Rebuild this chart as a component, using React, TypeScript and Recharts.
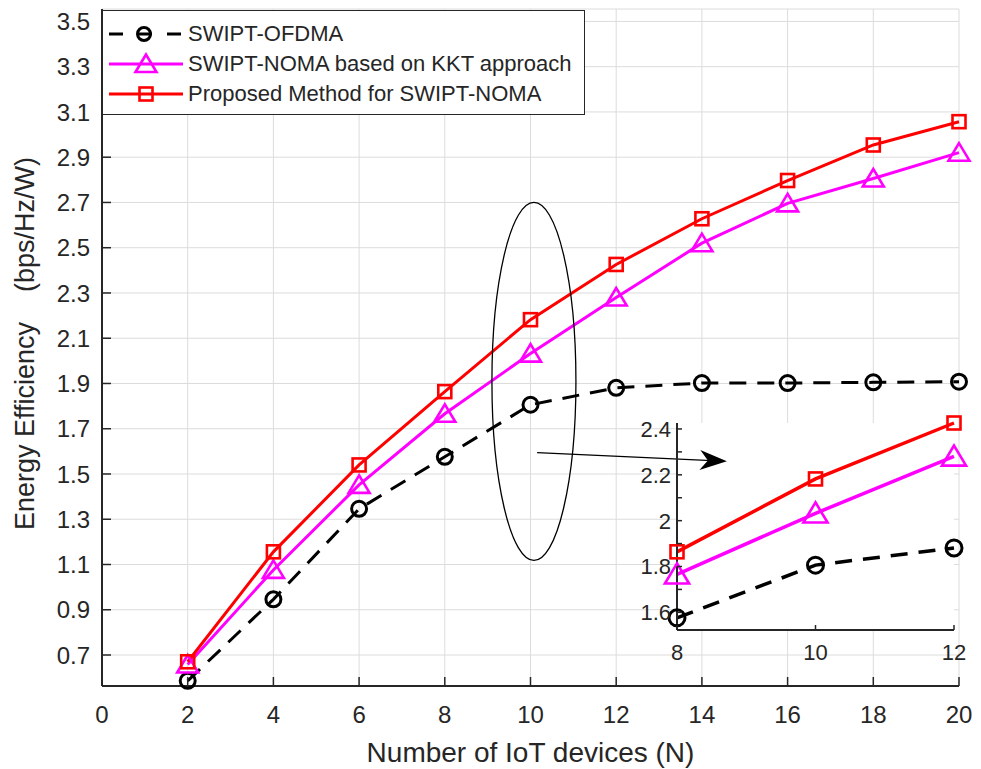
import React from 'react';
import {
  LineChart, Line, XAxis, YAxis, CartesianGrid, Legend, ReferenceDot, ReferenceLine,
} from 'recharts';

// number of IoT devices N
const devices = [2, 4, 6, 8, 10, 12, 14, 16, 18, 20];
// energy efficiency (bps/Hz/W)
const ofdma = [0.586, 0.946, 1.346, 1.576, 1.806, 1.881, 1.902, 1.902, 1.905, 1.908];
const kkt = [0.658, 1.076, 1.452, 1.766, 2.032, 2.28, 2.52, 2.696, 2.806, 2.92];
const proposed = [0.67, 1.156, 1.54, 1.864, 2.182, 2.426, 2.628, 2.797, 2.954, 3.057];

const xTicks = [0, 2, 4, 6, 8, 10, 12, 14, 16, 18, 20];
const yTicks = [0.7, 0.9, 1.1, 1.3, 1.5, 1.7, 1.9, 2.1, 2.3, 2.5, 2.7, 2.9, 3.1, 3.3, 3.5];

// zoomed inset
const zoomXTicks = [8, 10, 12];
const zoomYTicks = [1.6, 1.7, 1.8, 1.9, 2.0, 2.1, 2.2, 2.3, 2.4];

const seriesOrder = ['ofdma', 'kkt', 'proposed'];

const rows = devices.map((n, i) => ({ n, ofdma: ofdma[i], kkt: kkt[i], proposed: proposed[i] }));
const zoomRows = rows.filter((r) => r.n >= 8 && r.n <= 12);

const AXIS = '#262626';
const TXT = '#262626';
const GRID = '#dcdcdc';
const FONT = '"Liberation Sans", Arial, Helvetica, sans-serif';
const MAGENTA = '#ff00ff';
const RED = '#ff0000';

const circleDot = (r: number) => (p: any) => (
  <circle key={p.key} cx={p.cx} cy={p.cy} r={r} fill="none" stroke="#000" strokeWidth={3} strokeDasharray="none" />
);
const triangleDot = (s: number) => (p: any) => (
  <polygon
    key={p.key}
    points={`${p.cx},${p.cy - 9.5 * s} ${p.cx - 10.5 * s},${p.cy + 8 * s} ${p.cx + 10.5 * s},${p.cy + 8 * s}`}
    fill="none" stroke={MAGENTA} strokeWidth={2.6} />
);
const squareDot = (s: number) => (p: any) => (
  <rect key={p.key} x={p.cx - 6.5 * s} y={p.cy - 6.5 * s} width={13 * s} height={13 * s} fill="none" stroke={RED} strokeWidth={2.6} />
);

const bottomTick = (len: number, dy: number, size: number, labels: boolean) => (p: any) => (
  <g>
    <line x1={p.x} x2={p.x} y1={p.y} y2={p.y - len} stroke={AXIS} strokeWidth={1.5} />
    {labels && (
      <text x={p.x} y={p.y + dy} textAnchor="middle" fontSize={size} fill={TXT} fontFamily={FONT}>
        {p.payload.value}
      </text>
    )}
  </g>
);
const topTick = (len: number) => (p: any) => (
  <line x1={p.x} x2={p.x} y1={p.y} y2={p.y + len} stroke={AXIS} strokeWidth={1.5} />
);
const leftTick = (len: number, dx: number, size: number, fmt: ((v: number) => string) | null) => (p: any) => (
  <g>
    <line x1={p.x} x2={p.x + len} y1={p.y} y2={p.y} stroke={AXIS} strokeWidth={1.5} />
    {fmt && (
      <text x={p.x - dx} y={p.y} dy="0.36em" textAnchor="end" fontSize={size} fill={TXT} fontFamily={FONT}>
        {fmt(p.payload.value)}
      </text>
    )}
  </g>
);
const rightTick = (len: number) => (p: any) => (
  <line x1={p.x} x2={p.x - len} y1={p.y} y2={p.y} stroke={AXIS} strokeWidth={1.5} />
);

const zoomFmt = (v: number) => {
  const t = Math.round(v * 10);
  return t % 2 === 0 ? String(t / 10) : '';
};

const legendMarks: Record<string, { dash?: string; mark: string }> = {
  ofdma: { dash: '14 15', mark: 'circle' },
  kkt: { mark: 'triangle' },
  proposed: { mark: 'square' },
};

const LegendBox = (props: any) => {
  const items = [...(props.payload || [])].sort(
    (a: any, b: any) => seriesOrder.indexOf(a.dataKey) - seriesOrder.indexOf(b.dataKey),
  );
  return (
    <div style={{ paddingTop: 8 }}>
      {items.map((item: any) => {
        const m = legendMarks[item.dataKey];
        return (
          <div key={item.dataKey} style={{ display: 'flex', alignItems: 'center', height: 30 }}>
            <svg width={74} height={30} style={{ marginLeft: 6 }}>
              <line x1={0} x2={74} y1={15} y2={15} stroke={item.color} strokeWidth={3} strokeDasharray={m.dash} />
              {m.mark === 'circle' && <circle cx={35} cy={15} r={6.5} fill="none" stroke="#000" strokeWidth={3} />}
              {m.mark === 'triangle' && (
                <polygon points="37,5.5 26.5,23 47.5,23" fill="none" stroke={MAGENTA} strokeWidth={2.6} />
              )}
              {m.mark === 'square' && <rect x={30.5} y={8.5} width={13} height={13} fill="none" stroke={RED} strokeWidth={2.6} />}
            </svg>
            <span style={{ marginLeft: 5, fontSize: 22, fontFamily: FONT, color: TXT, whiteSpace: 'nowrap' }}>{item.value}</span>
          </div>
        );
      })}
    </div>
  );
};

const xLabel = (p: any) => (
  <text x={p.viewBox.x + p.viewBox.width / 2} y={p.viewBox.y + 76} textAnchor="middle" fontSize={28} fill={TXT} fontFamily={FONT}>
    Number of IoT devices (N)
  </text>
);
const yLabel = (p: any) => {
  const cx = 25;
  const cy = p.viewBox.y + p.viewBox.height / 2 - 4;
  return (
    <text x={cx} y={cy} transform={`rotate(-90 ${cx} ${cy})`} textAnchor="middle" dominantBaseline="central" fontSize={27} fill={TXT} fontFamily={FONT} style={{ whiteSpace: 'pre' }}>
      {'Energy Efficiency    (bps/Hz/W)'}
    </text>
  );
};

const Ellipse = (p: any) => <ellipse cx={p.cx} cy={p.cy} rx={42} ry={179} fill="none" stroke="#000" strokeWidth={1.3} />;

const Arrow = (p: any) => {
  const { x1, y1, x2, y2 } = p;
  const a = Math.atan2(y2 - y1, x2 - x1);
  const pt = (d: number, w: number) =>
    `${x2 - d * Math.cos(a) - w * Math.sin(a)},${y2 - d * Math.sin(a) + w * Math.cos(a)}`;
  return (
    <g>
      <line x1={x1} y1={y1} x2={x2 - 15 * Math.cos(a)} y2={y2 - 15 * Math.sin(a)} stroke="#000" strokeWidth={1.3} />
      <polygon points={`${x2},${y2} ${pt(27, -10)} ${pt(19, 0)} ${pt(27, 10)}`} fill="#000" />
    </g>
  );
};

export default function App() {
  return (
    <div style={{ position: 'absolute', left: 0, top: 0, width: 981, height: 769, background: '#fff' }}>
      <LineChart width={981} height={769} data={rows} margin={{ top: 9, right: 22, bottom: 0, left: 0 }}>
        <CartesianGrid stroke={GRID} strokeWidth={1} />
        <XAxis dataKey="n" type="number" domain={[0, 20]} ticks={xTicks} interval={0} height={83}
          tickSize={0} tickMargin={0} axisLine={{ stroke: AXIS, strokeWidth: 2 }}
          tick={bottomTick(9, 37, 24, true)} label={xLabel} />
        <XAxis xAxisId="top" orientation="top" type="number" domain={[0, 20]} ticks={xTicks} interval={0} height={0}
          tickSize={0} tickMargin={0} axisLine={{ stroke: AXIS, strokeWidth: 2 }} tick={topTick(9)} />
        <YAxis type="number" domain={[0.563, 3.555]} ticks={yTicks} interval={0} width={102}
          tickSize={0} tickMargin={0} axisLine={{ stroke: AXIS, strokeWidth: 2 }}
          tick={leftTick(9, 12, 24, (v) => v.toFixed(1))} label={yLabel} />
        <YAxis yAxisId="right" orientation="right" type="number" domain={[0.563, 3.555]} ticks={yTicks} interval={0} width={0}
          tickSize={0} tickMargin={0} axisLine={{ stroke: AXIS, strokeWidth: 2 }} tick={rightTick(9)} />
        <ReferenceDot x={10.08} y={1.909} r={1} ifOverflow="visible" shape={Ellipse} />
        <Line dataKey="ofdma" name="SWIPT-OFDMA" stroke="#000" strokeWidth={3} strokeDasharray="17 11"
          dot={circleDot(7.5)} isAnimationActive={false} />
        <Line dataKey="kkt" name="SWIPT-NOMA based on KKT approach" stroke={MAGENTA} strokeWidth={3}
          dot={triangleDot(1)} isAnimationActive={false} />
        <Line dataKey="proposed" name="Proposed Method for SWIPT-NOMA" stroke={RED} strokeWidth={3}
          dot={squareDot(1)} isAnimationActive={false} />
        <Legend layout="vertical" align="center" verticalAlign="middle" content={LegendBox}
          wrapperStyle={{ left: 102, top: 10, width: 483, height: 105, border: `1px solid ${AXIS}`, background: '#fff', boxSizing: 'border-box' }} />
      </LineChart>

      <div style={{ position: 'absolute', left: 500, top: 400 }}>
        <LineChart width={470} height={280} data={zoomRows} margin={{ top: 23, right: 16, bottom: 7, left: 130 }}>
          <CartesianGrid horizontal={false} vertical={false} fill="#fff" />
          <XAxis dataKey="n" type="number" domain={[8, 12]} ticks={zoomXTicks} interval={0} height={43}
            tickSize={0} tickMargin={0} axisLine={{ stroke: AXIS, strokeWidth: 2 }} tick={bottomTick(5, 30, 22, true)} />
          <XAxis xAxisId="top" orientation="top" type="number" domain={[8, 12]} ticks={zoomXTicks} interval={0} height={0}
            tickSize={0} tickMargin={0} axisLine={{ stroke: AXIS, strokeWidth: 2 }} tick={topTick(5)} />
          <YAxis type="number" domain={[1.523, 2.404]} ticks={zoomYTicks} interval={0} width={47}
            tickSize={0} tickMargin={0} axisLine={{ stroke: AXIS, strokeWidth: 2 }} tick={leftTick(5, 6, 22, zoomFmt)} />
          <YAxis yAxisId="right" orientation="right" type="number" domain={[1.523, 2.404]} ticks={zoomYTicks} interval={0} width={0}
            tickSize={0} tickMargin={0} axisLine={{ stroke: AXIS, strokeWidth: 2 }} tick={rightTick(5)} />
          <Line dataKey="ofdma" stroke="#000" strokeWidth={3.5} strokeDasharray="17 11" dot={circleDot(8)} isAnimationActive={false} />
          <Line dataKey="kkt" stroke={MAGENTA} strokeWidth={3.5} dot={triangleDot(1.15)} isAnimationActive={false} />
          <Line dataKey="proposed" stroke={RED} strokeWidth={3.5} dot={squareDot(1)} isAnimationActive={false} />
          <ReferenceLine segment={[{ x: 5.98, y: 2.297 }, { x: 8.72, y: 2.259 }]} ifOverflow="visible" shape={Arrow} />
        </LineChart>
      </div>
    </div>
  );
}
